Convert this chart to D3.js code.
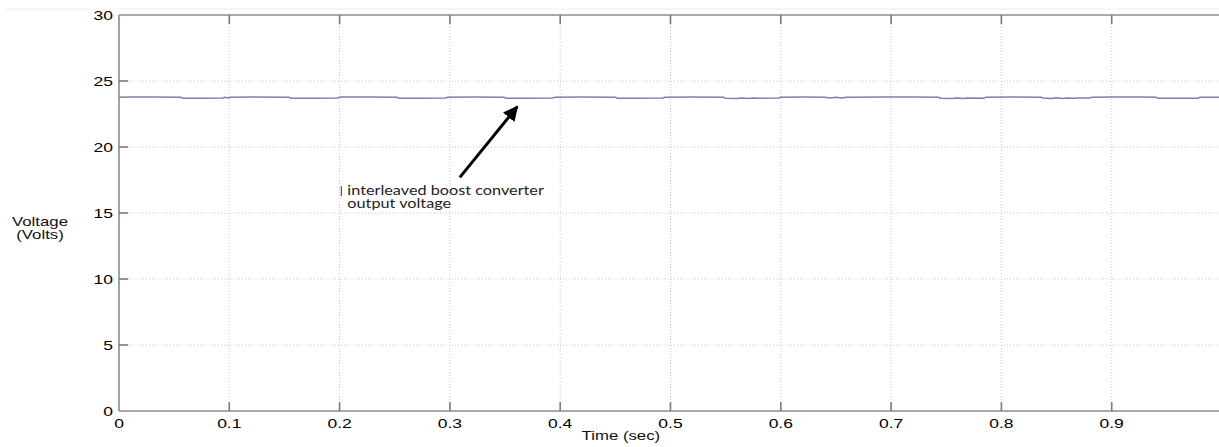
<!DOCTYPE html>
<html>
<head>
<meta charset="utf-8">
<script src="https://cdn.jsdelivr.net/npm/d3@7"></script>
<style>
  html, body { margin: 0; padding: 0; background: #fff; }
  svg { display: block; }
</style>
</head>
<body>
<svg id="chart" width="1219" height="447"></svg>
<script>
// ---- data ----
const xTicks = [0, 0.1, 0.2, 0.3, 0.4, 0.5, 0.6, 0.7, 0.8, 0.9];
const xTickLabels = ["0", "0.1", "0.2", "0.3", "0.4", "0.5", "0.6", "0.7", "0.8", "0.9"];
const yTicks = [0, 5, 10, 15, 20, 25, 30];
const yTickLabels = ["0", "5", "10", "15", "20", "25", "30"];
// output voltage trace (time in s, voltage in V)
const time = [0.000, 0.010, 0.030, 0.056, 0.058, 0.080, 0.094, 0.096, 0.099, 0.101, 0.120, 0.154, 0.156, 0.180, 0.198, 0.200, 0.202,
              0.230, 0.252, 0.254, 0.275, 0.296, 0.298, 0.320, 0.349, 0.351, 0.370, 0.393, 0.395, 0.420, 0.450, 0.452, 0.470,
              0.493, 0.495, 0.520, 0.548, 0.550, 0.560, 0.565, 0.570, 0.575, 0.580, 0.598, 0.600, 0.620, 0.640, 0.645, 0.650,
              0.655, 0.660, 0.665, 0.690, 0.720, 0.743, 0.745, 0.755, 0.760, 0.765, 0.770, 0.784, 0.786, 0.810, 0.836, 0.838,
              0.845, 0.850, 0.855, 0.860, 0.865, 0.870, 0.880, 0.882, 0.900, 0.930, 0.940, 0.942, 0.960, 0.978, 0.980, 1.000];
const voltage = [23.77, 23.79, 23.78, 23.77, 23.70, 23.70, 23.71, 23.76, 23.72, 23.77, 23.79, 23.77, 23.70, 23.70, 23.71, 23.77, 23.78,
                 23.79, 23.77, 23.70, 23.70, 23.71, 23.77, 23.79, 23.77, 23.70, 23.70, 23.71, 23.77, 23.79, 23.77, 23.70, 23.70,
                 23.71, 23.77, 23.79, 23.77, 23.70, 23.68, 23.72, 23.68, 23.71, 23.70, 23.71, 23.77, 23.78, 23.77, 23.72, 23.76,
                 23.71, 23.76, 23.77, 23.79, 23.78, 23.77, 23.70, 23.67, 23.72, 23.68, 23.71, 23.70, 23.77, 23.79, 23.77, 23.72,
                 23.68, 23.73, 23.68, 23.72, 23.69, 23.71, 23.71, 23.77, 23.78, 23.78, 23.76, 23.70, 23.69, 23.70, 23.77, 23.77];
const annotationLines = ["interleaved boost converter", "output voltage"];
const annotationAt = [0.207, 16.35];
const arrowFrom = [0.309, 17.7];
const arrowTo = [0.361, 23.05];

// ---- layout ----
const svg = d3.select("#chart");
const pLeft = 119, pTop = 15, pBottom = 411, pRight = 1219;
const x = d3.scaleLinear().domain([0, 1]).range([pLeft, pLeft + 1103]);
const y = d3.scaleLinear().domain([0, 30]).range([pBottom, pTop]);
const sx = 1.4; // horizontal stretch of the lettering in the source image

const defs = svg.append("defs");
defs.append("clipPath").attr("id", "plotclip")
  .append("rect").attr("x", pLeft).attr("y", pTop - 2).attr("width", pRight - pLeft).attr("height", pBottom - pTop + 4);

// faint scan line at top
svg.append("line").attr("x1", 5).attr("x2", pRight).attr("y1", 9).attr("y2", 9)
  .attr("stroke", "#eeeeee").attr("stroke-width", 1);

// grid
const grid = svg.append("g").attr("clip-path", "url(#plotclip)");
grid.selectAll(".vg").data(xTicks.slice(1)).enter().append("line")
  .attr("x1", d => x(d)).attr("x2", d => x(d)).attr("y1", pTop).attr("y2", pBottom)
  .attr("stroke", "#c8c8c8").attr("stroke-width", 1).attr("stroke-dasharray", "1,2");
grid.selectAll(".hg").data(yTicks.slice(1, -1)).enter().append("line")
  .attr("x1", pLeft).attr("x2", pRight).attr("y1", d => y(d)).attr("y2", d => y(d))
  .attr("stroke", "#c8c8c8").attr("stroke-width", 1).attr("stroke-dasharray", "1,2");

// trace
const line = d3.line().x((d, i) => x(time[i])).y((d, i) => y(voltage[i]));
svg.append("path").datum(voltage).attr("clip-path", "url(#plotclip)")
  .attr("d", line).attr("fill", "none").attr("stroke", "#7c80a6").attr("stroke-width", 1.5);

// axes box
const axCol = "#8c8c8c";
svg.append("line").attr("x1", pLeft).attr("x2", pRight).attr("y1", pTop).attr("y2", pTop).attr("stroke", axCol).attr("stroke-width", 1.6);
svg.append("line").attr("x1", pLeft).attr("x2", pRight).attr("y1", pBottom).attr("y2", pBottom).attr("stroke", axCol).attr("stroke-width", 1.6);
svg.append("line").attr("x1", pLeft).attr("x2", pLeft).attr("y1", pTop).attr("y2", pBottom).attr("stroke", axCol).attr("stroke-width", 1.6);

// ticks (inward)
const tl = 9, tickCol = "#7a7a7a";
const tg = svg.append("g").attr("clip-path", "url(#plotclip)");
tg.selectAll(".bt").data(xTicks.slice(1)).enter().append("line")
  .attr("x1", d => x(d)).attr("x2", d => x(d)).attr("y1", pBottom).attr("y2", pBottom - tl)
  .attr("stroke", tickCol).attr("stroke-width", 1.6);
tg.selectAll(".tt").data(xTicks.slice(1)).enter().append("line")
  .attr("x1", d => x(d)).attr("x2", d => x(d)).attr("y1", pTop).attr("y2", pTop + tl)
  .attr("stroke", tickCol).attr("stroke-width", 1.6);
tg.selectAll(".lt").data(yTicks.slice(1, -1)).enter().append("line")
  .attr("x1", pLeft).attr("x2", pLeft + tl).attr("y1", d => y(d)).attr("y2", d => y(d))
  .attr("stroke", tickCol).attr("stroke-width", 1.6);

// tick labels
const font = "'Liberation Sans', Arial, Helvetica, sans-serif";
svg.selectAll(".xl").data(xTicks).enter().append("text")
  .attr("transform", d => `translate(${x(d)},${pBottom + 17}) scale(${sx},1)`)
  .attr("text-anchor", "middle").attr("font-family", font).attr("font-size", 12.5)
  .attr("fill", "#000").text((d, i) => xTickLabels[i]);
svg.selectAll(".yl").data(yTicks).enter().append("text")
  .attr("transform", d => `translate(${pLeft - 6},${y(d)}) scale(${sx},1)`).attr("dy", "0.36em")
  .attr("text-anchor", "end").attr("font-family", font).attr("font-size", 12.5)
  .attr("fill", "#000").text((d, i) => yTickLabels[i]);

// axis titles
svg.append("text").attr("transform", `translate(${x(0.455)},440) scale(${sx},1)`).attr("text-anchor", "middle")
  .attr("font-family", font).attr("font-size", 12).attr("fill", "#111").text("Time (sec)");
svg.append("text").attr("transform", `translate(40,226) scale(${sx},1)`).attr("text-anchor", "middle")
  .attr("font-family", font).attr("font-size", 12).attr("fill", "#111").text("Voltage");
svg.append("text").attr("transform", `translate(40,239) scale(${sx},1)`).attr("text-anchor", "middle")
  .attr("font-family", font).attr("font-size", 12).attr("fill", "#111").text("(Volts)");

// annotation
defs.append("marker").attr("id", "ah").attr("viewBox", "0 0 10 10")
  .attr("refX", 9).attr("refY", 5).attr("markerWidth", 5).attr("markerHeight", 5)
  .attr("markerUnits", "strokeWidth").attr("orient", "auto")
  .append("path").attr("d", "M0,0 L10,5 L0,10 Z").attr("fill", "#000");
svg.append("line").attr("x1", x(arrowFrom[0])).attr("y1", y(arrowFrom[1]))
  .attr("x2", x(arrowTo[0])).attr("y2", y(arrowTo[1]))
  .attr("stroke", "#000").attr("stroke-width", 3).attr("marker-end", "url(#ah)");
svg.append("line").attr("x1", x(annotationAt[0]) - 6).attr("x2", x(annotationAt[0]) - 6)
  .attr("y1", y(annotationAt[1]) - 9).attr("y2", y(annotationAt[1]) + 1)
  .attr("stroke", "#333").attr("stroke-width", 1);
svg.selectAll(".ann").data(annotationLines).enter().append("text")
  .attr("transform", (d, i) => `translate(${x(annotationAt[0])},${y(annotationAt[1]) + i * 13}) scale(1.3,1)`)
  .attr("font-family", "Lato, 'Open Sans', sans-serif").attr("font-size", 12.5)
  .attr("fill", "#222").text(d => d);
</script>
</body>
</html>
